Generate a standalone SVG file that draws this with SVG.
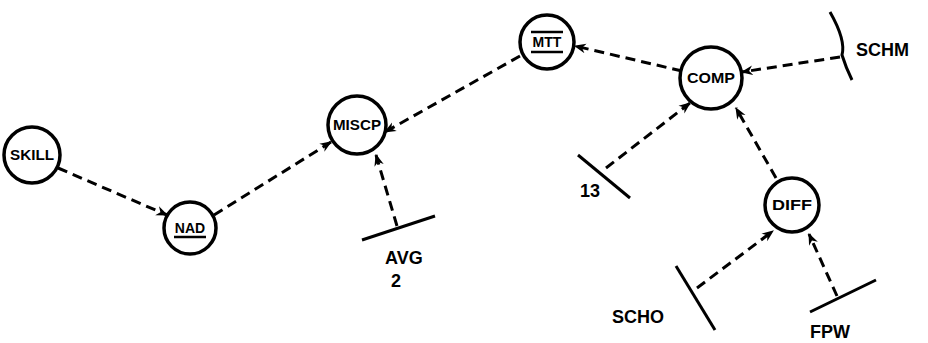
<svg xmlns="http://www.w3.org/2000/svg" width="928" height="343" viewBox="0 0 928 343">
<defs>
<marker id="ah" viewBox="0 0 10 10" refX="9" refY="5" markerWidth="12" markerHeight="12" markerUnits="userSpaceOnUse" orient="auto">
<path d="M0,1 L10,5 L0,9 L3,5 Z" fill="#000"/>
</marker>
<style>
.n{fill:#fff;stroke:#000;stroke-width:3.5}
.t{font-family:"Liberation Sans",Arial,sans-serif;font-weight:bold;font-size:14px;text-anchor:middle;fill:#000}
.l{font-family:"Liberation Sans",Arial,sans-serif;font-weight:bold;font-size:18px;fill:#000}
.c{fill:none;stroke:#000;stroke-width:3;stroke-dasharray:10,6;marker-end:url(#ah)}
.b{fill:none;stroke:#000;stroke-width:3}
.u{stroke:#000;stroke-width:2.5}
</style>
</defs>
<rect width="928" height="343" fill="#fff"/>
<g id="connectors">
<line class="c" x1="58" y1="168" x2="167" y2="215"/>
<line class="c" x1="214" y1="215" x2="331" y2="142"/>
<line class="c" x1="520" y1="56" x2="385" y2="132"/>
<line class="c" x1="682" y1="71" x2="575" y2="46"/>
<line class="c" x1="840" y1="57" x2="742" y2="72"/>
<line class="c" x1="606" y1="168" x2="690" y2="103"/>
<line class="c" x1="776" y1="178" x2="736" y2="108"/>
<line class="c" x1="697" y1="288" x2="773" y2="231"/>
<line class="c" x1="837" y1="296" x2="809" y2="234"/>
<line class="c" x1="397" y1="226" x2="376" y2="155"/>
</g>
<g id="SKILL"><circle class="n" cx="32" cy="155" r="28"/><text class="t" x="32" y="160" textLength="44" lengthAdjust="spacingAndGlyphs">SKILL</text></g>
<g id="NAD"><circle class="n" cx="190" cy="228" r="26"/><text class="t" x="190" y="233">NAD</text><line class="u" x1="174" y1="237" x2="206" y2="237"/></g>
<g id="MISCP"><circle class="n" cx="357" cy="125" r="29"/><text class="t" x="357" y="130" textLength="48" lengthAdjust="spacingAndGlyphs">MISCP</text></g>
<g id="MTT"><circle class="n" cx="547" cy="42" r="27"/><text class="t" x="547" y="47">MTT</text><line class="u" x1="531" y1="32" x2="563" y2="32"/><line class="u" x1="531" y1="52" x2="563" y2="52"/></g>
<g id="COMP"><circle class="n" cx="711" cy="78" r="31"/><text class="t" x="711" y="83" textLength="48" lengthAdjust="spacingAndGlyphs">COMP</text></g>
<g id="DIFF"><circle class="n" cx="792" cy="205" r="27"/><text class="t" x="792" y="210" textLength="40" lengthAdjust="spacingAndGlyphs">DIFF</text></g>
<g id="SCHM"><path class="b" d="M830,12 Q846,40 842,55 Q846,68 852,80"/><text class="l" x="856" y="56">SCHM</text></g>
<g id="N13"><line class="b" x1="578" y1="155" x2="630" y2="198"/><text class="l" x="580" y="197">13</text></g>
<g id="AVG2"><line class="b" x1="362" y1="240" x2="435" y2="216"/><text class="l" x="385" y="264">AVG</text><text class="l" x="391" y="287">2</text></g>
<g id="SCHO"><line class="b" x1="676" y1="266" x2="715" y2="330"/><text class="l" x="612" y="323">SCHO</text></g>
<g id="FPW"><line class="b" x1="810" y1="312" x2="876" y2="280"/><text class="l" x="810" y="338">FPW</text></g>
</svg>
